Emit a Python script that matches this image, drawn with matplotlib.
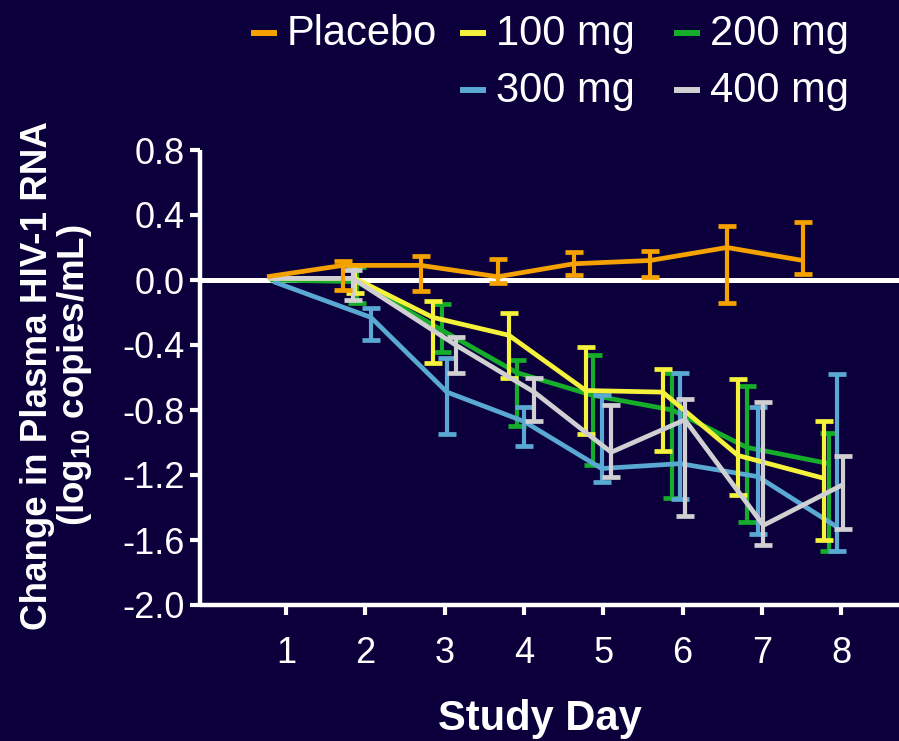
import numpy as np
import matplotlib
matplotlib.use("Agg")
import matplotlib.pyplot as plt
from matplotlib.lines import Line2D

plt.rcParams['font.family'] = ['Liberation Sans', 'DejaVu Sans']
plt.rcParams['mathtext.fontset'] = 'custom'
plt.rcParams['mathtext.rm'] = 'Liberation Sans'
plt.rcParams['mathtext.bf'] = 'Liberation Sans:bold'

bg = '#0c003c'

# mean change from baseline, with lower / upper error extents (log10 copies/mL)
# day values are the plotted visit times for each group
placebo_day = [0.76, 1.72, 2.70, 3.67, 4.63, 5.59, 6.56, 7.52]
placebo_mean = [0.02, 0.09, 0.09, 0.02, 0.10, 0.12, 0.20, 0.12]
placebo_top = [0.02, 0.12, 0.15, 0.13, 0.17, 0.18, 0.33, 0.36]
placebo_bot = [0.02, -0.06, -0.07, -0.02, 0.03, 0.02, -0.14, 0.04]

mg100_day = [0.80, 1.87, 2.85, 3.81, 4.78, 5.75, 6.70, 7.78]
mg100_mean = [0.01, 0.01, -0.23, -0.34, -0.68, -0.69, -1.08, -1.22]
mg100_top = [0.01, 0.09, -0.13, -0.20, -0.41, -0.55, -0.61, -0.87]
mg100_bot = [0.01, -0.08, -0.51, -0.60, -0.95, -1.05, -1.32, -1.60]

mg200_day = [0.80, 1.90, 2.97, 3.91, 4.87, 5.87, 6.81, 7.85]
mg200_mean = [0.00, -0.01, -0.31, -0.57, -0.71, -0.80, -1.03, -1.13]
mg200_top = [0.00, 0.08, -0.15, -0.49, -0.46, -0.57, -0.65, -0.94]
mg200_bot = [0.00, -0.14, -0.44, -0.90, -1.14, -1.34, -1.49, -1.67]

mg300_day = [0.84, 2.07, 3.03, 4.00, 4.98, 5.97, 6.95, 7.95]
mg300_mean = [-0.01, -0.23, -0.69, -0.87, -1.16, -1.13, -1.21, -1.52]
mg300_top = [-0.01, -0.17, -0.48, -0.78, -0.71, -0.57, -0.78, -0.58]
mg300_bot = [-0.01, -0.37, -0.95, -1.02, -1.24, -1.35, -1.56, -1.67]

mg400_day = [0.77, 1.84, 3.14, 4.13, 5.10, 6.03, 7.02, 8.02]
mg400_mean = [0.01, 0.01, -0.40, -0.69, -1.06, -0.86, -1.51, -1.26]
mg400_top = [0.01, 0.06, -0.35, -0.60, -0.77, -0.73, -0.75, -1.08]
mg400_bot = [0.01, -0.12, -0.57, -0.87, -1.21, -1.45, -1.63, -1.53]

groups = [
    ('Placebo', '#f5a100', placebo_day, placebo_mean, placebo_top, placebo_bot),
    ('100 mg', '#f4f23a', mg100_day, mg100_mean, mg100_top, mg100_bot),
    ('200 mg', '#16ad2b', mg200_day, mg200_mean, mg200_top, mg200_bot),
    ('300 mg', '#5aa9d2', mg300_day, mg300_mean, mg300_top, mg300_bot),
    ('400 mg', '#d0d0d2', mg400_day, mg400_mean, mg400_top, mg400_bot),
]
draw_order = {'200 mg': 3, '300 mg': 4, '100 mg': 5, '400 mg': 6, 'Placebo': 7}

days = [1, 2, 3, 4, 5, 6, 7, 8]
yticks = [-2.0, -1.6, -1.2, -0.8, -0.4, 0.0, 0.4, 0.8]

fig = plt.figure(figsize=(8.99, 7.41), dpi=100, facecolor=bg)
ax = fig.add_axes([200 / 899, 1 - 605 / 741, 699 / 899, 455 / 741])
ax.set_facecolor(bg)

ax.axhline(0, color='white', lw=3.6, zorder=1)

for name, col, x, m, top, bot in groups:
    x = np.array(x)
    m = np.array(m)
    lo = m - np.array(bot)
    hi = np.array(top) - m
    z = draw_order[name]
    ax.plot(x, m, color=col, lw=3.4, zorder=z, solid_capstyle='butt')
    ax.errorbar(x[1:], m[1:], yerr=[lo[1:], hi[1:]], fmt='none', ecolor=col,
                elinewidth=3, capsize=6.5, capthick=3.4, zorder=z)

ax.set_xlim(-0.085, 8.73)
ax.set_ylim(-2.0, 0.8)
ax.set_xticks(days)
ax.set_yticks(yticks)
ax.set_yticklabels([f'{v:.1f}' for v in yticks])

for s in ['top', 'right']:
    ax.spines[s].set_visible(False)
for s in ['left', 'bottom']:
    ax.spines[s].set_color('white')
    ax.spines[s].set_linewidth(3.2)
    ax.spines[s].set_capstyle('butt')

ax.tick_params(axis='both', colors='white', direction='out', length=7, width=3,
               labelsize=26)
ax.tick_params(axis='x', pad=15)
ax.tick_params(axis='y', pad=4)

ax.set_xlabel('Study Day', color='white', fontsize=30, fontweight='bold')
ax.xaxis.set_label_coords(0.486, -0.250)
ax.xaxis.label.set_va('center')

ax.set_ylabel('Change in Plasma HIV-1 RNA\n(log$_{\\mathbf{10}}$ copies/mL)',
              color='white', fontsize=26.5, fontweight='bold', linespacing=1.0,
              ha='center', multialignment='center')
ax.yaxis.set_label_coords(-0.205, 0.505)
ax.yaxis.label.set_va('center')

# legend laid out in two rows
W, H = 899, 741
legend_rows = [
    ('Placebo', 251, 0), ('100 mg', 460, 0), ('200 mg', 674, 0),
    ('300 mg', 460, 1), ('400 mg', 674, 1),
]
colors = {g[0]: g[1] for g in groups}
for name, x0, row in legend_rows:
    ymid = 33 + 57 * row
    base = 45 + 57 * row
    fig.add_artist(Line2D([x0 / W, (x0 + 26) / W], [1 - ymid / H, 1 - ymid / H],
                          color=colors[name], lw=4.3, solid_capstyle='butt'))
    fig.text((x0 + 36) / W, 1 - base / H, name, color='white', fontsize=30,
             va='baseline', ha='left')

fig.savefig('out.png', dpi=100, facecolor=bg)
